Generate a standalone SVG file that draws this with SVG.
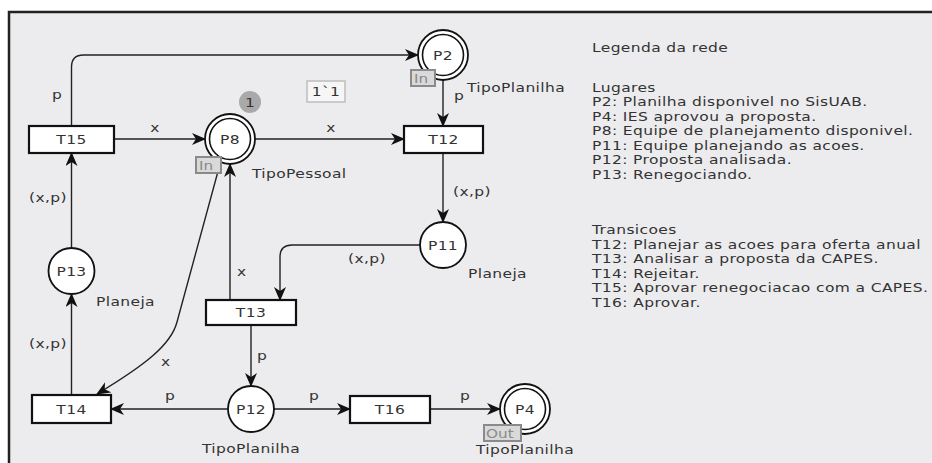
<svg xmlns="http://www.w3.org/2000/svg" width="932" height="463" viewBox="0 0 932 463">
<defs>
<style>
text{font-family:"DejaVu Sans","Liberation Sans",sans-serif;font-size:12.2px;letter-spacing:0.3px;fill:#333}
.c{text-anchor:middle}
.tr{fill:#fff;stroke:#111;stroke-width:2.2}
.pl{fill:#fff;stroke:#111;stroke-width:1.8}
.pi{fill:none;stroke:#111;stroke-width:1.6}
.tag{fill:#d9d9d9;stroke:#8a8a8a;stroke-width:2}
.tagt{fill:#8a8a8a;font-size:12px;letter-spacing:0px}
.arc{fill:none;stroke:#222;stroke-width:1.4;marker-end:url(#ah)}
</style>
<marker id="ah" viewBox="0 0 14 12" refX="13" refY="6" markerWidth="14" markerHeight="12" markerUnits="userSpaceOnUse" orient="auto">
<path d="M0,0 L14,6 L0,12 L4,6 z" fill="#111"/>
</marker>
</defs>
<rect x="0" y="0" width="932" height="463" fill="#fff"/>
<rect x="9" y="12" width="923" height="451" fill="#ececee"/>
<path d="M9,463 V12 H932" fill="none" stroke="#222" stroke-width="2.5"/>

<g id="connectors">
<path class="arc" d="M71.5,126 V67 Q71.5,55 83.5,55 H418"/>
<path class="arc" d="M443,80 V126"/>
<path class="arc" d="M114,139 H205"/>
<path class="arc" d="M255,139 H404"/>
<path class="arc" d="M443,153 V222"/>
<path class="arc" d="M420,245 H292 Q280,245 280,257 V300"/>
<path class="arc" d="M230,300 V164"/>
<path class="arc" d="M220,164 L177,322 C171,345 145,365 97,394"/>
<path class="arc" d="M71.5,248 V153"/>
<path class="arc" d="M71.5,395 V294"/>
<path class="arc" d="M228,409 H111"/>
<path class="arc" d="M274,409 H350"/>
<path class="arc" d="M430,409 H500"/>
<path class="arc" d="M251,325 V386"/>
<text transform="translate(52,99) scale(1.27,1)">p</text>
<text class="c" transform="translate(155,132) scale(1.27,1)">x</text>
<text class="c" transform="translate(331,132) scale(1.27,1)">x</text>
<text transform="translate(454,100) scale(1.27,1)">p</text>
<text transform="translate(29,202) scale(1.27,1)">(x,p)</text>
<text transform="translate(453,196) scale(1.27,1)">(x,p)</text>
<text transform="translate(348,263) scale(1.27,1)">(x,p)</text>
<text transform="translate(237,276) scale(1.27,1)">x</text>
<text transform="translate(257,360) scale(1.27,1)">p</text>
<text transform="translate(29,348) scale(1.27,1)">(x,p)</text>
<text transform="translate(161,366) scale(1.27,1)">x</text>
<text transform="translate(165,400) scale(1.27,1)">p</text>
<text transform="translate(309,400) scale(1.27,1)">p</text>
<text transform="translate(460,400) scale(1.27,1)">p</text>
</g>

<g id="P2">
<circle class="pl" cx="443" cy="55" r="25"/>
<circle class="pi" cx="443" cy="55" r="20.5"/>
<text class="c" transform="translate(443,59.5) scale(1.27,1)">P2</text>
<rect class="tag" x="411" y="70" width="24" height="16"/>
<text class="tagt" transform="translate(414,83) scale(1.27,1)">In</text>
<text transform="translate(467,92) scale(1.27,1)">TipoPlanilha</text>
</g>

<g id="P8">
<circle class="pl" cx="230" cy="139" r="25"/>
<circle class="pi" cx="230" cy="139" r="20.5"/>
<text class="c" transform="translate(230,143.5) scale(1.27,1)">P8</text>
<rect class="tag" x="196" y="157" width="25" height="16"/>
<text class="tagt" transform="translate(199,170) scale(1.27,1)">In</text>
<text transform="translate(252,178) scale(1.27,1)">TipoPessoal</text>
</g>

<g id="token">
<circle cx="250" cy="102" r="11" fill="#a9a9a9"/>
<text class="c" transform="translate(250,106.5) scale(1.27,1)">1</text>
<rect x="307" y="81" width="38" height="21" fill="#f6f6f6" stroke="#bdbdbd" stroke-width="1.5"/>
<text class="c" transform="translate(326,96) scale(1.27,1)">1`1</text>
</g>

<g id="P11">
<circle class="pl" cx="443" cy="245" r="23"/>
<text class="c" transform="translate(443,249.5) scale(1.27,1)">P11</text>
<text transform="translate(468,278) scale(1.27,1)">Planeja</text>
</g>

<g id="P13">
<circle class="pl" cx="71.5" cy="271" r="23"/>
<text class="c" transform="translate(71.5,275.5) scale(1.27,1)">P13</text>
<text transform="translate(96,306) scale(1.27,1)">Planeja</text>
</g>

<g id="P12">
<circle class="pl" cx="251" cy="409" r="23"/>
<text class="c" transform="translate(251,413.5) scale(1.27,1)">P12</text>
<text transform="translate(202,453) scale(1.27,1)">TipoPlanilha</text>
</g>

<g id="P4">
<circle class="pl" cx="525" cy="409" r="25"/>
<circle class="pi" cx="525" cy="409" r="20.5"/>
<text class="c" transform="translate(525,413.5) scale(1.27,1)">P4</text>
<rect class="tag" x="484" y="425" width="37" height="16"/>
<text class="tagt" transform="translate(486,438) scale(1.27,1)">Out</text>
<text transform="translate(476,454) scale(1.27,1)">TipoPlanilha</text>
</g>

<g id="T15">
<rect class="tr" x="29" y="126" width="85" height="27"/>
<text class="c" transform="translate(71.5,144) scale(1.27,1)">T15</text>
</g>
<g id="T12">
<rect class="tr" x="404" y="126" width="79" height="27"/>
<text class="c" transform="translate(443.5,144) scale(1.27,1)">T12</text>
</g>
<g id="T13">
<rect class="tr" x="206" y="300" width="90" height="25"/>
<text class="c" transform="translate(251,317) scale(1.27,1)">T13</text>
</g>
<g id="T14">
<rect class="tr" x="32" y="395" width="79" height="28"/>
<text class="c" transform="translate(71.5,413.5) scale(1.27,1)">T14</text>
</g>
<g id="T16">
<rect class="tr" x="350" y="396" width="80" height="27"/>
<text class="c" transform="translate(390,414) scale(1.27,1)">T16</text>
</g>

<g id="legend">
<text transform="translate(592,52) scale(1.27,1)">Legenda da rede</text>
<text transform="translate(592,92) scale(1.27,1)">Lugares</text>
<text transform="translate(592,106) scale(1.27,1)">P2: Planilha disponivel no SisUAB.</text>
<text transform="translate(592,120.5) scale(1.27,1)">P4: IES aprovou a proposta.</text>
<text transform="translate(592,135) scale(1.27,1)">P8: Equipe de planejamento disponivel.</text>
<text transform="translate(592,149.5) scale(1.27,1)">P11: Equipe planejando as acoes.</text>
<text transform="translate(592,164) scale(1.27,1)">P12: Proposta analisada.</text>
<text transform="translate(592,178.5) scale(1.27,1)">P13: Renegociando.</text>
<text transform="translate(592,234) scale(1.27,1)">Transicoes</text>
<text transform="translate(592,248.5) scale(1.27,1)">T12: Planejar as acoes para oferta anual</text>
<text transform="translate(592,263) scale(1.27,1)">T13: Analisar a proposta da CAPES.</text>
<text transform="translate(592,277.5) scale(1.27,1)">T14: Rejeitar.</text>
<text transform="translate(592,292) scale(1.27,1)">T15: Aprovar renegociacao com a CAPES.</text>
<text transform="translate(592,306.5) scale(1.27,1)">T16: Aprovar.</text>
</g>
</svg>
